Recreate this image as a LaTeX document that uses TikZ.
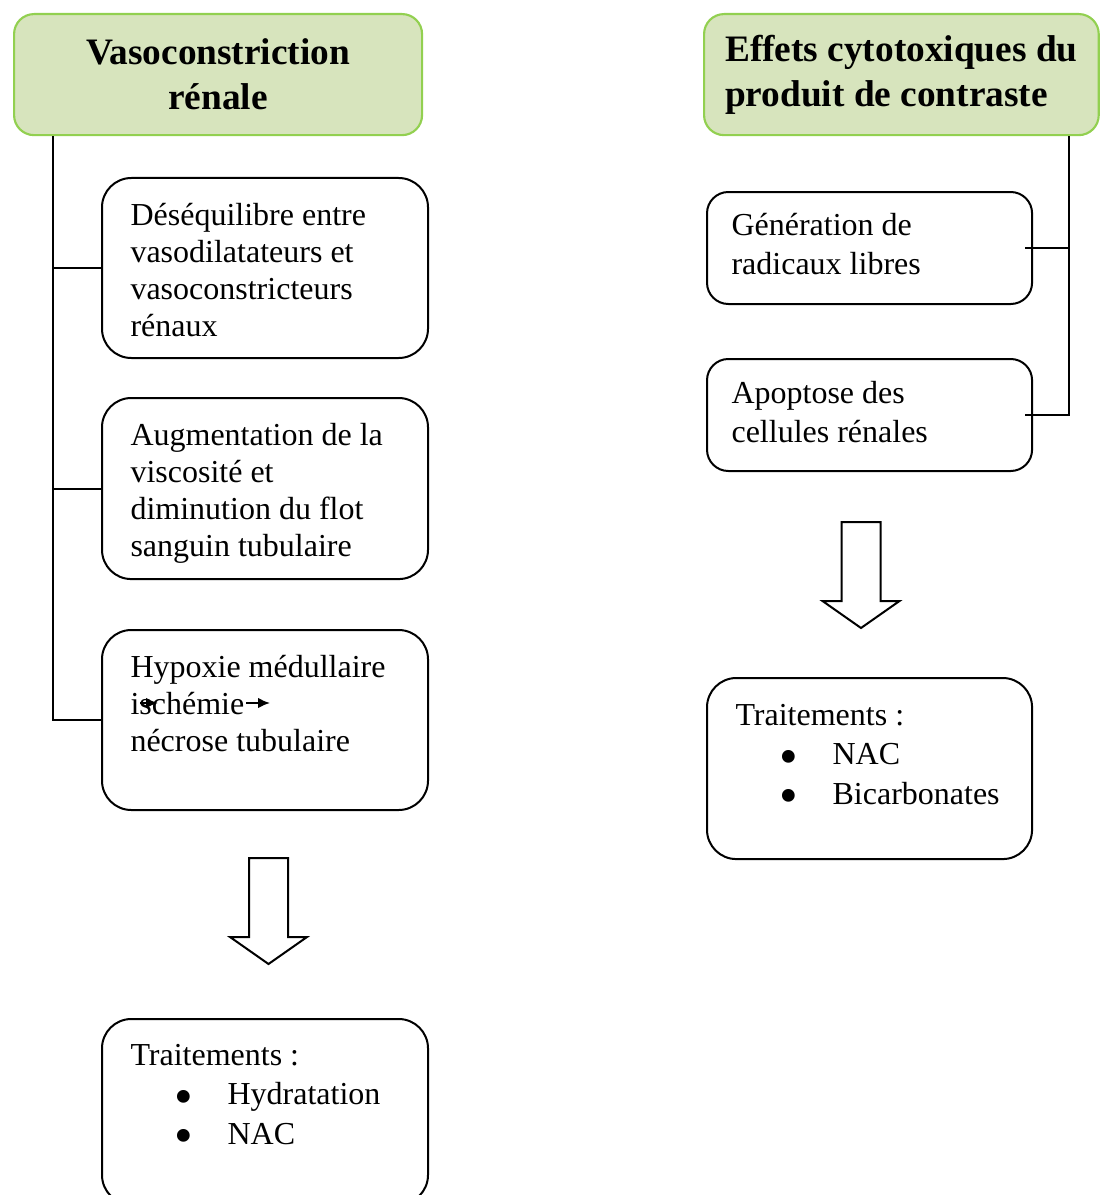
\documentclass[tikz,border=0pt]{standalone}
\usepackage{fontspec}
\setmainfont{Liberation Serif}
\usetikzlibrary{arrows.meta, calc, positioning}

\definecolor{hdrfill}{RGB}{215,228,189}
\definecolor{hdrline}{RGB}{146,208,80}

\newcommand{\puce}{\makebox[36.4pt][l]{\hspace*{16.5pt}\smash{\raisebox{-3.6pt}{\fontsize{20}{0}\selectfont\textbullet}}}}

\tikzset{
  entete/.style={draw=hdrline, line width=0.8pt, fill=hdrfill, rounded corners=7.5pt,
    anchor=north west, inner sep=0pt, minimum height=45.4pt,
    font=\fontsize{14}{16.9}\selectfont\bfseries},
  boite/.style={draw, line width=0.75pt, rounded corners=11pt, anchor=north west,
    inner sep=0pt},
  texte/.style={anchor=north west, align=left, inner sep=0pt,
    font=\fontsize{12}{13.9}\selectfont, execute at begin node=\strut},
  texteb/.style={texte, font=\fontsize{12}{14.8}\selectfont},
  trait/.style={line width=0.75pt},
  fleche/.pic={\draw[line width=0.75pt] (-19.5,0) -- (19.5,0) -- (19.5,79) -- (38.5,79)
    -- (0,106) -- (-38.5,79) -- (-19.5,79) -- cycle;}
}

\begin{document}
\begin{tikzpicture}[x=0.375pt, y=-0.375pt]
  \useasboundingbox (0,0) rectangle (1100,1195);

  % Headers
  \node[entete, minimum width=153pt, align=center] (hdrL) at (13,13) {Vasoconstriction\\rénale};
  \node[entete, minimum width=148pt, align=left] (hdrR) at (703,13) {Effets cytotoxiques du\\produit de contraste};

  % Left column boxes
  \node[boite, minimum width=122.25pt, minimum height=67.5pt] (b1) at (101,177) {};
  \node[boite, minimum width=122.25pt, minimum height=67.9pt] (b2) at (101,397) {};
  \node[boite, minimum width=122.25pt, minimum height=67.5pt] (b3) at (101,629) {};
  \node[boite, minimum width=122.25pt, minimum height=69.5pt] (b4) at (101,1018) {};

  \node[texte] (t1) at ($(b1.north west)+(29,26)$) {Déséquilibre entre\\vasodilatateurs et\\vasoconstricteurs\\rénaux};
  \node[texte] (t2) at ($(b2.north west)+(29,26)$) {Augmentation de la\\viscosité et\\diminution du flot\\sanguin tubulaire};
  \node[texte] (t3) at ($(b3.north west)+(29,26)$) {Hypoxie médullaire\\ischémie\\nécrose tubulaire};
  \node[texteb] (t4) at ($(b4.north west)+(29,25.5)$) {Traitements :\\\puce Hydratation\\\puce NAC};

  % Right column boxes
  \node[boite, rounded corners=8pt, minimum width=121.9pt, minimum height=42pt] (b5) at (706,191) {};
  \node[boite, rounded corners=8pt, minimum width=121.9pt, minimum height=42pt] (b6) at (706,358) {};
  \node[boite, minimum width=121.9pt, minimum height=67.9pt] (b7) at (706,677) {};

  \node[texteb] (t5) at ($(b5.north west)+(25,21.5)$) {Génération de\\radicaux libres};
  \node[texteb] (t6) at ($(b6.north west)+(25,22.5)$) {Apoptose des\\cellules rénales};
  \node[texteb] (t7) at ($(b7.north west)+(29,26.5)$) {Traitements :\\\puce NAC\\\puce Bicarbonates};

  % Small arrows in the ischemia line
  \draw[trait, -{Latex[length=4.5pt, width=4pt]}] ($(b3.north west)+(39,74)$) -- ++(18,0);
  \draw[trait, -{Latex[length=4.5pt, width=4pt]}] ($(b3.north west)+(145,74)$) -- ++(24,0);

  % Left connectors
  \draw[trait] ($(hdrL.south west)+(40,0)$) coordinate (sL) |- (b3.west);
  \draw[trait] (b1.west) -- (b1.west -| sL);
  \draw[trait] (b2.west) -- (b2.west -| sL);

  % Right connectors
  \draw[trait] ($(hdrR.south east)+(-31,0)$) coordinate (sR) |- ($(b6.east)+(-8,0)$);
  \draw[trait] ($(b5.east)+(-8,0)$) -- (b5.east -| sR);

  % Block arrows
  \pic at (268.5,858) {fleche};
  \pic at (861,522) {fleche};
\end{tikzpicture}
\end{document}
